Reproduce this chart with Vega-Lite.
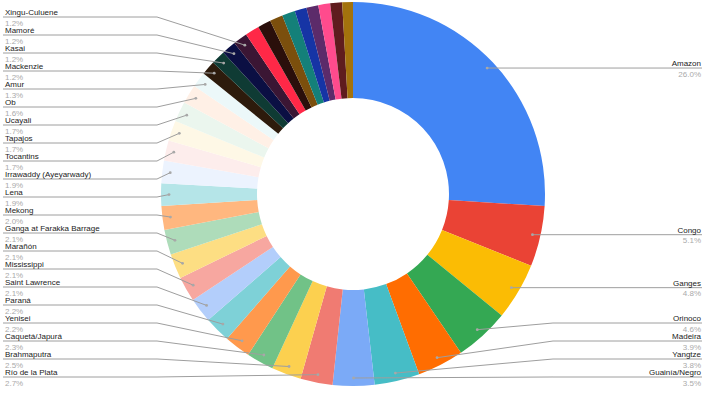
{
  "$schema": "https://vega.github.io/schema/vega-lite/v6.json",
  "width": 706,
  "height": 388,
  "padding": {"left": 0, "top": 0, "right": 3, "bottom": 5},
  "background": "white",
  "config": {"view": {"stroke": null}, "font": "Liberation Sans"},
  "data": {
    "values": [
      {"rank": 1, "name": "Amazon", "share": 26.0},
      {"rank": 2, "name": "Congo", "share": 5.1},
      {"rank": 3, "name": "Ganges", "share": 4.8},
      {"rank": 4, "name": "Orinoco", "share": 4.6},
      {"rank": 5, "name": "Madeira", "share": 3.9},
      {"rank": 6, "name": "Yangtze", "share": 3.8},
      {"rank": 7, "name": "Guainía/Negro", "share": 3.5},
      {"rank": 8, "name": "Río de la Plata", "share": 2.7},
      {"rank": 9, "name": "Brahmaputra", "share": 2.5},
      {"rank": 10, "name": "Caquetá/Japurá", "share": 2.3},
      {"rank": 11, "name": "Yenisei", "share": 2.2},
      {"rank": 12, "name": "Paraná", "share": 2.2},
      {"rank": 13, "name": "Saint Lawrence", "share": 2.1},
      {"rank": 14, "name": "Mississippi", "share": 2.1},
      {"rank": 15, "name": "Marañón", "share": 2.1},
      {"rank": 16, "name": "Ganga at Farakka Barrage", "share": 2.1},
      {"rank": 17, "name": "Mekong", "share": 2.0},
      {"rank": 18, "name": "Lena", "share": 1.9},
      {"rank": 19, "name": "Irrawaddy (Ayeyarwady)", "share": 1.9},
      {"rank": 20, "name": "Tocantins", "share": 1.7},
      {"rank": 21, "name": "Tapajos", "share": 1.7},
      {"rank": 22, "name": "Ucayali", "share": 1.7},
      {"rank": 23, "name": "Ob", "share": 1.6},
      {"rank": 24, "name": "Amur", "share": 1.3},
      {"rank": 25, "name": "Mackenzie", "share": 1.2},
      {"rank": 26, "name": "Kasai", "share": 1.2},
      {"rank": 27, "name": "Mamoré", "share": 1.2},
      {"rank": 28, "name": "Xingu-Culuene", "share": 1.2},
      {"rank": 29, "name": "Columbia", "share": 1.2},
      {"rank": 30, "name": "Zambezi", "share": 1.1},
      {"rank": 31, "name": "Danube", "share": 1.1},
      {"rank": 32, "name": "Niger", "share": 1.1},
      {"rank": 33, "name": "Magdalena", "share": 1.0},
      {"rank": 34, "name": "Pechora", "share": 1.0},
      {"rank": 35, "name": "Yukon", "share": 1.0},
      {"rank": 36, "name": "Sepik", "share": 1.0},
      {"rank": 37, "name": "Fly", "share": 0.9}
    ]
  },
  "transform": [
    {"window": [{"op": "sum", "field": "share", "as": "cum"}], "sort": [{"field": "rank", "order": "ascending"}], "frame": [null, 0]},
    {"joinaggregate": [{"op": "sum", "field": "share", "as": "total"}]},
    {"calculate": "2*PI*(datum.cum - datum.share/2)/datum.total", "as": "ang"},
    {"calculate": "353 + 184*sin(datum.ang)", "as": "dotX"},
    {"calculate": "194 - 184*cos(datum.ang)", "as": "dotY"},
    {"calculate": "datum.rank <= 7 ? min(datum.dotY, 377 - 18*(7 - datum.rank)) : 17 + 18*(28 - datum.rank)", "as": "labY"},
    {"calculate": "datum.rank <= 7 ? 553 : 157", "as": "elbowX"},
    {"calculate": "datum.rank <= 7 ? 702 : 3", "as": "endX"},
    {"calculate": "datum.rank <= 7 ? 701 : 5", "as": "textX"},
    {"calculate": "format(datum.share, '.1f') + '%'", "as": "pct"}
  ],
  "layer": [
    {
      "mark": {"type": "arc", "radius": 192, "radius2": 96},
      "encoding": {
        "theta": {"field": "share", "type": "quantitative", "stack": true},
        "order": {"field": "rank", "type": "quantitative", "sort": "ascending"},
        "color": {
          "field": "name", "type": "nominal", "legend": null,
          "scale": {
            "domain": ["Amazon","Congo","Ganges","Orinoco","Madeira","Yangtze","Guainía/Negro","Río de la Plata","Brahmaputra","Caquetá/Japurá","Yenisei","Paraná","Saint Lawrence","Mississippi","Marañón","Ganga at Farakka Barrage","Mekong","Lena","Irrawaddy (Ayeyarwady)","Tocantins","Tapajos","Ucayali","Ob","Amur","Mackenzie","Kasai","Mamoré","Xingu-Culuene","Columbia","Zambezi","Danube","Niger","Magdalena","Pechora","Yukon","Sepik","Fly"],
            "range": ["#4285F4","#EA4335","#FBBC04","#34A853","#FF6D01","#46BDC6","#7BAAF7","#F07B72","#FCD04F","#71C287","#FF994D","#7ED1D7","#B3CEFB","#F7A7A0","#FDDE83","#AEDCBA","#FFB77F","#B5E5E8","#ECF3FE","#FDEDEC","#FEF8E6","#EBF6EE","#FFF0E6","#ECF8F9","#2d1b0c","#0f3b34","#0b0f43","#3b1634","#ff2847","#2a0f0b","#7b4f0d","#148079","#1634a5","#5c2b6a","#ff4b8d","#5f1c1e","#a3720d"]
          }
        }
      }
    },
    {
      "transform": [{"filter": "datum.rank <= 28"}],
      "mark": {"type": "rule", "color": "#9e9e9e", "strokeWidth": 1},
      "encoding": {
        "x": {"field": "dotX", "type": "quantitative", "axis": null, "scale": {"domain": [0, 706], "nice": false, "zero": false}},
        "y": {"field": "dotY", "type": "quantitative", "axis": null, "scale": {"domain": [0, 388], "nice": false, "zero": false, "reverse": true}},
        "x2": {"field": "elbowX"},
        "y2": {"field": "labY"}
      }
    },
    {
      "transform": [{"filter": "datum.rank <= 28"}],
      "mark": {"type": "rule", "color": "#9e9e9e", "strokeWidth": 1},
      "encoding": {
        "x": {"field": "elbowX", "type": "quantitative"},
        "y": {"field": "labY", "type": "quantitative"},
        "x2": {"field": "endX"},
        "y2": {"field": "labY"}
      }
    },
    {
      "transform": [{"filter": "datum.rank <= 28"}],
      "mark": {"type": "point", "filled": true, "color": "#a8a8a8", "size": 8, "opacity": 1},
      "encoding": {
        "x": {"field": "dotX", "type": "quantitative"},
        "y": {"field": "dotY", "type": "quantitative"}
      }
    },
    {
      "transform": [{"filter": "datum.rank <= 7"}],
      "mark": {"type": "text", "align": "right", "baseline": "alphabetic", "dy": -2, "fontSize": 8, "color": "#222222"},
      "encoding": {
        "x": {"field": "textX", "type": "quantitative"},
        "y": {"field": "labY", "type": "quantitative"},
        "text": {"field": "name"}
      }
    },
    {
      "transform": [{"filter": "datum.rank <= 7"}],
      "mark": {"type": "text", "align": "right", "baseline": "alphabetic", "dy": 8.5, "fontSize": 8, "color": "#aaaaaa"},
      "encoding": {
        "x": {"field": "textX", "type": "quantitative"},
        "y": {"field": "labY", "type": "quantitative"},
        "text": {"field": "pct"}
      }
    },
    {
      "transform": [{"filter": "datum.rank > 7 && datum.rank <= 28"}],
      "mark": {"type": "text", "align": "left", "baseline": "alphabetic", "dy": -2, "fontSize": 8, "color": "#222222"},
      "encoding": {
        "x": {"field": "textX", "type": "quantitative"},
        "y": {"field": "labY", "type": "quantitative"},
        "text": {"field": "name"}
      }
    },
    {
      "transform": [{"filter": "datum.rank > 7 && datum.rank <= 28"}],
      "mark": {"type": "text", "align": "left", "baseline": "alphabetic", "dy": 8.5, "fontSize": 8, "color": "#aaaaaa"},
      "encoding": {
        "x": {"field": "textX", "type": "quantitative"},
        "y": {"field": "labY", "type": "quantitative"},
        "text": {"field": "pct"}
      }
    }
  ]
}
